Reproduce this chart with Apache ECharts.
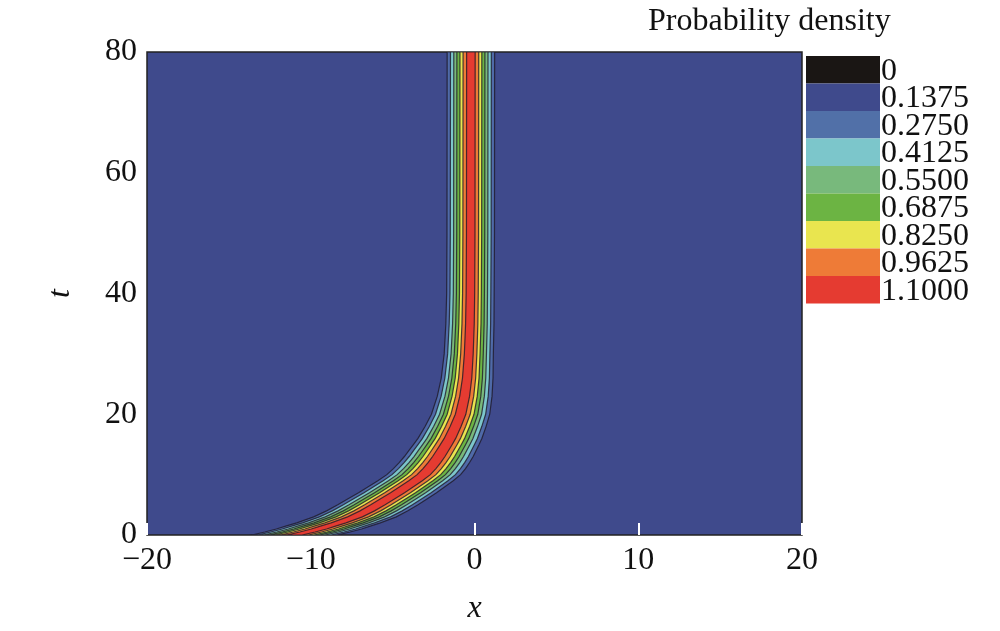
<!DOCTYPE html>
<html><head><meta charset="utf-8">
<script src="https://cdn.jsdelivr.net/npm/echarts@6/dist/echarts.min.js"></script>
<style>html,body{margin:0;background:#fff}#c{width:1000px;height:631px}</style>
</head><body><div id="c"></div>
<script>
// soliton centre and outer (0.1375) contour half-width along t
var tVals =   [0, 0.5, 1, 1.5, 2, 3, 4, 5, 6, 7, 8, 9, 10, 11, 12, 13, 14, 15, 16, 18, 20, 23, 26, 30, 35, 40, 50, 80];
var centers = [-11, -10.2, -9.5, -8.9, -8.3, -7.3, -6.55, -5.9, -5.3, -4.7, -4.15, -3.6, -3.1, -2.75, -2.45, -2.18, -1.95, -1.72, -1.5, -1.15, -0.85, -0.6, -0.45, -0.35, -0.28, -0.25, -0.23, -0.22];
var halfW =   [2.6, 2.6, 2.6, 2.58, 2.55, 2.52, 2.48, 2.45, 2.42, 2.38, 2.34, 2.3, 2.25, 2.2, 2.15, 2.1, 2.05, 2.0, 1.95, 1.86, 1.78, 1.67, 1.58, 1.5, 1.47, 1.45, 1.45, 1.45];
// relative width of each contour level band (0.1375 .. 0.9625)
var levelWidth = [1, 0.86, 0.72, 0.59, 0.46, 0.33, 0.18];
var levelColors = ['#4f6aa8', '#7cc6cb', '#78b97c', '#6cb443', '#e9e54f', '#ee7b37', '#e53b31'];
var barColors = ['#1a1614', '#3f4a8c', '#5170a8', '#7cc6cb', '#78b97c', '#6cb443', '#e9e54f', '#ee7b37', '#e53b31'];
var barLabels = ['0', '0.1375', '0.2750', '0.4125', '0.5500', '0.6875', '0.8250', '0.9625', '1.1000'];
var xLabels = {'-20': '\u221220', '-10': '\u221210', '0': '0', '10': '10', '20': '20'};
var bg = '#3f4a8c';
var font = '"Liberation Serif","DejaVu Serif",serif';

var chart = echarts.init(document.getElementById('c'));
var series = [];
levelWidth.forEach(function (lw, k) {
	series.push({
		type: 'custom',
		data: [0],
		z: 2 + k,
		renderItem: function (params, api) {
			var left = [], right = [];
			for (var i = 0; i < tVals.length; i++) {
				left.push(api.coord([centers[i] - halfW[i] * lw, tVals[i]]));
				right.unshift(api.coord([centers[i] + halfW[i] * lw, tVals[i]]));
			}
			var r = params.coordSys;
			return {
				type: 'polygon',
				shape: { points: left.concat(right) },
				clipPath: { type: 'rect', shape: { x: r.x, y: r.y, width: r.width, height: r.height } },
				style: { fill: levelColors[k], stroke: 'rgba(30,25,40,0.8)', lineWidth: 1.2 }
			};
		}
	});
});

var graphics = [];
var bx = 806, by = 56, bh = 27.5;
barColors.forEach(function (c, i) {
	graphics.push({ type: 'rect', shape: { x: bx, y: by + i * bh, width: 74, height: bh }, style: { fill: c } });
	graphics.push({ type: 'text', x: 881, y: by + (i + 1) * bh + 4, style: { text: barLabels[i], font: '32px ' + font, fill: '#111', verticalAlign: 'bottom' } });
});
graphics.push({ type: 'text', x: 648, y: 6, style: { text: 'Probability density', font: '32px ' + font, fill: '#111' } });

chart.setOption({
	animation: false,
	grid: { left: 147, right: 198, top: 52, bottom: 96, show: true, backgroundColor: bg, borderColor: '#222', borderWidth: 1.5 },
	xAxis: {
		type: 'value', min: -20, max: 20, interval: 10,
		name: 'x', nameLocation: 'middle', nameGap: 58,
		nameTextStyle: { fontFamily: font, fontStyle: 'italic', fontSize: 32, color: '#111' },
		axisLine: { show: false },
		axisTick: { inside: true, length: 12, lineStyle: { color: '#fff', width: 2 } },
		axisLabel: { fontFamily: font, fontSize: 32, color: '#111', margin: 10, formatter: function (v) { return xLabels[v]; } },
		splitLine: { show: false }
	},
	yAxis: {
		type: 'value', min: 0, max: 80, interval: 20,
		name: 't', nameLocation: 'middle', nameGap: 70,
		nameTextStyle: { fontFamily: font, fontStyle: 'italic', fontSize: 32, color: '#111' },
		axisLine: { show: false },
		axisTick: { show: false },
		axisLabel: { fontFamily: font, fontSize: 32, color: '#111', margin: 10 },
		splitLine: { show: false }
	},
	series: series,
	graphic: graphics
});
</script></body></html>
